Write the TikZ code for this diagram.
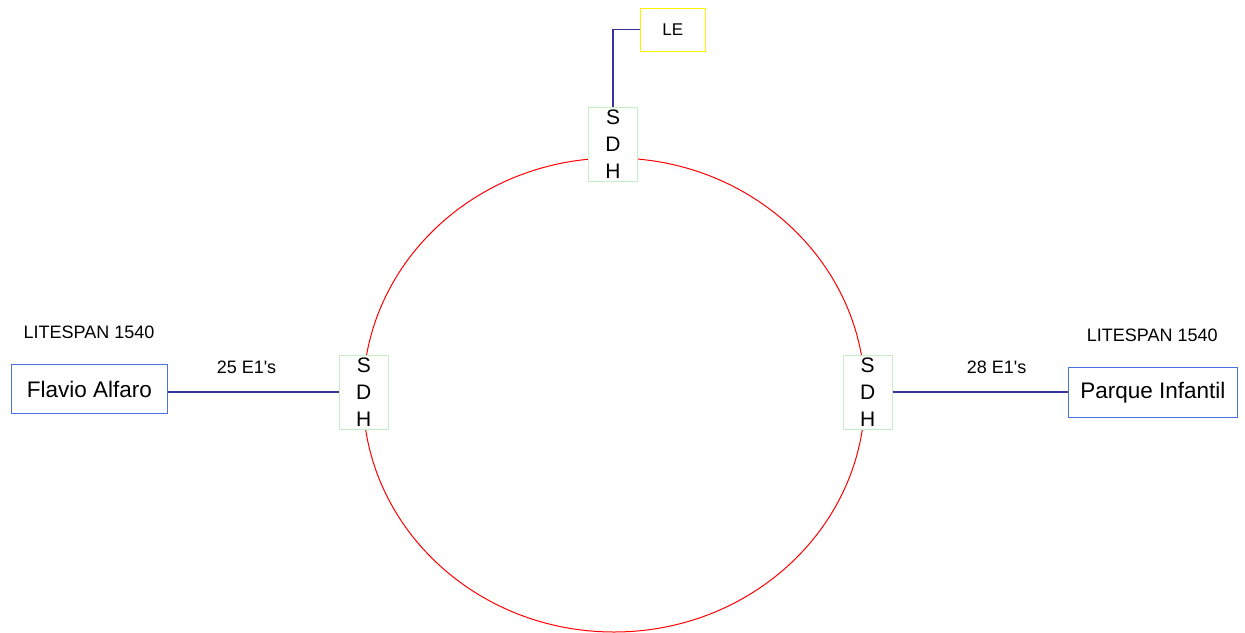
\documentclass[tikz,border=0pt]{standalone}
\usepackage{fontspec}
\setmainfont{Liberation Sans}
\begin{document}
\definecolor{boxblue}{HTML}{4A72E0}
\definecolor{linkblue}{HTML}{33339A}
\definecolor{sdhgreen}{HTML}{C6EEC6}
\definecolor{leyellow}{HTML}{FFF000}
\begin{tikzpicture}[x=1pt,y=-1pt,
  sdhbox/.style={draw=sdhgreen,line width=0.8pt,fill=white,minimum width=49pt,minimum height=74pt,
    inner sep=0pt,align=center,font=\fontsize{21}{27}\selectfont},
  sitebox/.style={draw=boxblue,line width=0.9pt,fill=white,inner sep=0pt,
    font=\fontsize{22.5}{27}\selectfont},
  lebox/.style={draw=leyellow,line width=0.9pt,fill=white,minimum width=65pt,minimum height=43pt,
    inner sep=0pt,font=\fontsize{17}{20}\selectfont},
  caption/.style={inner sep=0pt,font=\fontsize{18}{21}\selectfont},
  link/.style={draw=linkblue,line width=1.2pt},
  ring/.style={draw=red,line width=1pt}]
\useasboundingbox (0,0) rectangle (1245,632);
\clip (0,0) rectangle (1245,632);

% SDH ring
\draw[ring] (614,395) ellipse [x radius=251pt, y radius=237pt];

% ring nodes
\node[sdhbox] (sdhtop) at (613,144.5) {S\\D\\H};
\node[sdhbox] (sdhleft) at (363.8,392) {S\\D\\H};
\node[sdhbox] (sdhright) at (867.7,392) {S\\D\\H};

% local exchange
\node[lebox] (le) at (672.8,29.7) {LE};

% remote sites
\node[sitebox,minimum width=155.6pt,minimum height=49.4pt] (flavio) at (89.5,389) {Flavio Alfaro};
\node[sitebox,minimum width=169pt,minimum height=49.6pt] (parque) at (1152.8,392.5) {Parque Infantil};

\node[caption] (litl) at (89,332.7) {LITESPAN 1540};
\node[caption] (litr) at (1152.3,335) {LITESPAN 1540};

% tributary links
\draw[link] (flavio.east |- sdhleft.west) -- (sdhleft.west);
\draw[link] (sdhright.east) -- (parque.west |- sdhright.east);
\draw[link] (le.west) -| (sdhtop.north);

\node[caption] (e1l) at (246.5,367) {25 E1\textquotesingle s};
\node[caption] (e1r) at (996.7,367.7) {28 E1\textquotesingle s};
\end{tikzpicture}
\end{document}
